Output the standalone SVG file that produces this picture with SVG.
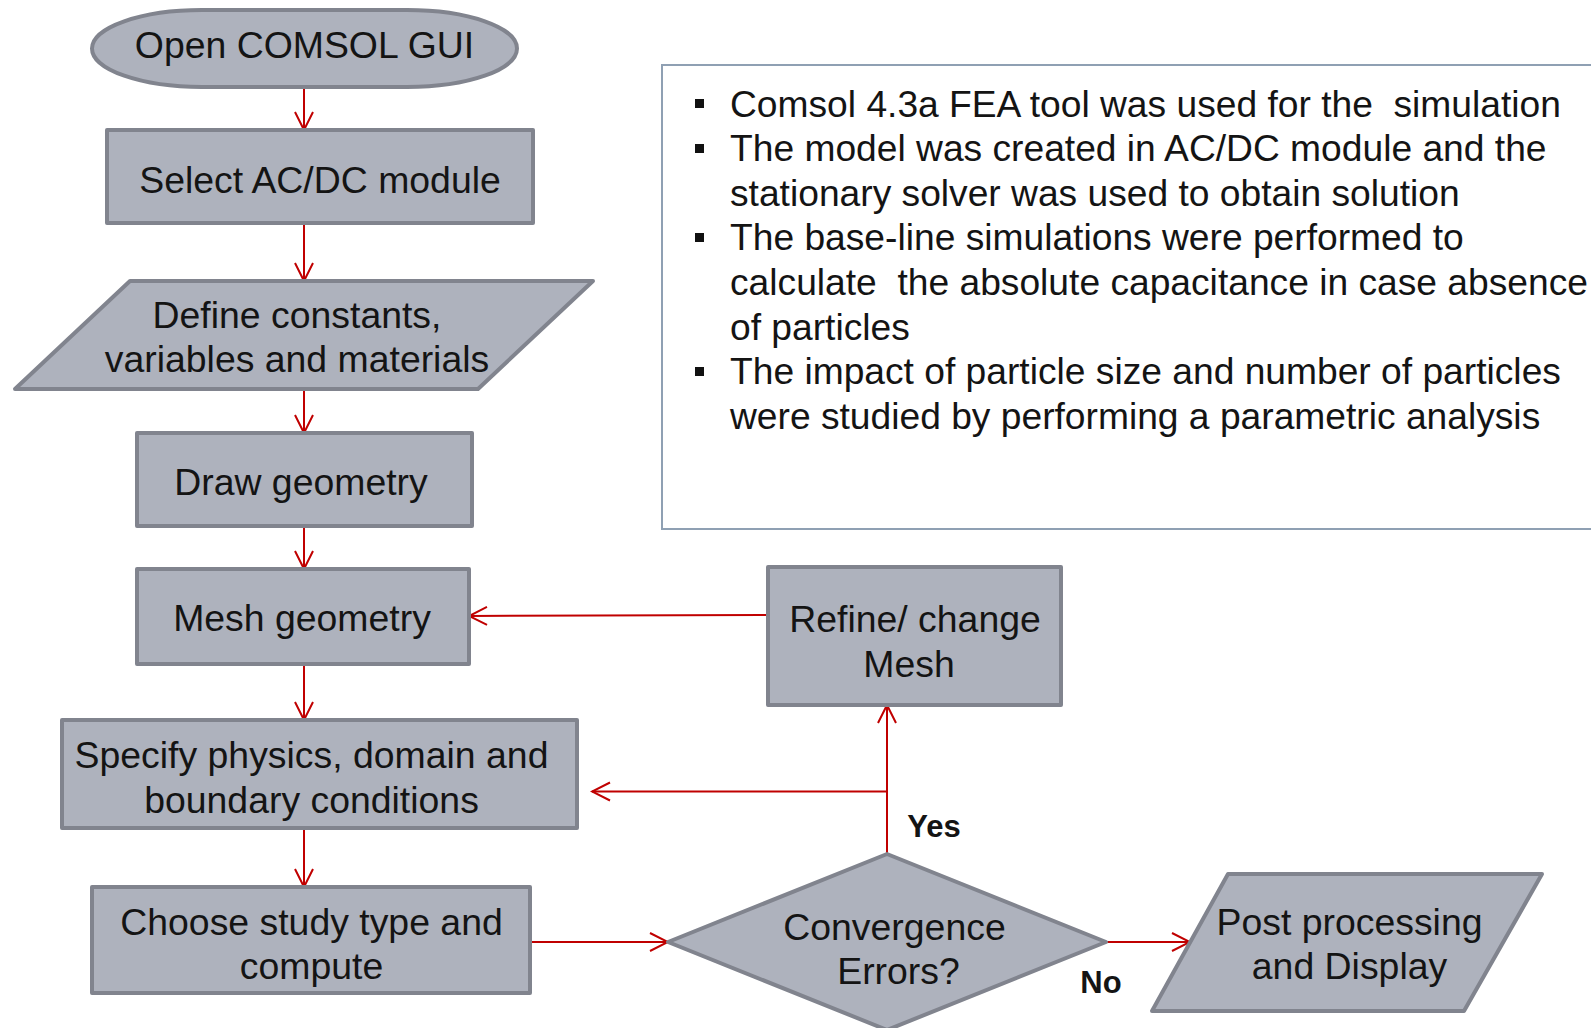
<svg xmlns="http://www.w3.org/2000/svg" width="1591" height="1028" viewBox="0 0 1591 1028">
<style>
.n{fill:#aeb2bd;stroke:#81848e;stroke-width:4;stroke-linejoin:round}
.t{font-family:"Liberation Sans",Arial,sans-serif;font-size:37.4px;fill:#141414;text-anchor:middle}
.b{font-family:"Liberation Sans",Arial,sans-serif;font-size:37.2px;fill:#141414;white-space:pre}
.lab{font-family:"Liberation Sans",Arial,sans-serif;font-size:31px;font-weight:bold;fill:#141414;text-anchor:middle}
.c{stroke:#c00000;stroke-width:2;fill:none}
.bul{fill:#111}
</style>
<defs>
<marker id="ah" markerUnits="userSpaceOnUse" markerWidth="22" markerHeight="22" viewBox="0 0 22 22" refX="20" refY="11" orient="auto">
<path d="M2,2 L20,11 L2,20" fill="none" stroke="#c00000" stroke-width="2"/>
</marker>
</defs>
<rect width="1591" height="1028" fill="#ffffff"/>

<g id="notes">
<rect x="662" y="65" width="940" height="464" fill="none" stroke="#8fa0b3" stroke-width="2"/>
<rect class="bul" x="695" y="99" width="9" height="9"/>
<rect class="bul" x="695" y="144" width="9" height="9"/>
<rect class="bul" x="695" y="233" width="9" height="9"/>
<rect class="bul" x="695" y="367" width="9" height="9"/>
<text class="b" x="730" y="116.5">Comsol 4.3a FEA tool was used for the  simulation</text>
<text class="b" x="730" y="161.1">The model was created in AC/DC module and the</text>
<text class="b" x="730" y="205.7">stationary solver was used to obtain solution</text>
<text class="b" x="730" y="250.3">The base-line simulations were performed to</text>
<text class="b" x="730" y="294.9">calculate  the absolute capacitance in case absence</text>
<text class="b" x="730" y="339.5">of particles</text>
<text class="b" x="730" y="384.1">The impact of particle size and number of particles</text>
<text class="b" x="730" y="428.7">were studied by performing a parametric analysis</text>
</g>

<g id="connectors">
<line class="c" x1="304" y1="87" x2="304" y2="130" marker-end="url(#ah)"/>
<line class="c" x1="304" y1="223" x2="304" y2="281" marker-end="url(#ah)"/>
<line class="c" x1="304" y1="389" x2="304" y2="433" marker-end="url(#ah)"/>
<line class="c" x1="304" y1="526" x2="304" y2="569" marker-end="url(#ah)"/>
<line class="c" x1="304" y1="664" x2="304" y2="720" marker-end="url(#ah)"/>
<line class="c" x1="304" y1="828" x2="304" y2="887" marker-end="url(#ah)"/>
<line class="c" x1="530" y1="942" x2="668" y2="942" marker-end="url(#ah)"/>
<line class="c" x1="887" y1="854" x2="887" y2="705" marker-end="url(#ah)"/>
<line class="c" x1="887" y1="791.5" x2="592" y2="791.5" marker-end="url(#ah)"/>
<line class="c" x1="768" y1="615" x2="469" y2="616" marker-end="url(#ah)"/>
<line class="c" x1="1106" y1="942" x2="1190" y2="942" marker-end="url(#ah)"/>
<text class="lab" x="934" y="837">Yes</text>
<text class="lab" x="1101" y="993">No</text>
</g>

<g id="open">
<rect class="n" x="92" y="10" width="425" height="77" rx="110" ry="38.5"/>
<text class="t" x="304.5" y="58">Open COMSOL GUI</text>
</g>

<g id="select">
<rect class="n" x="107" y="130" width="426" height="93"/>
<text class="t" x="320" y="193">Select AC/DC module</text>
</g>

<g id="define">
<polygon class="n" points="130,281 593,281 478,389 15,389"/>
<text class="t" x="297" y="328">Define constants,</text>
<text class="t" x="297" y="372">variables and materials</text>
</g>

<g id="draw">
<rect class="n" x="137" y="433" width="335" height="93"/>
<text class="t" x="301" y="495">Draw geometry</text>
</g>

<g id="mesh">
<rect class="n" x="137" y="569" width="332" height="95"/>
<text class="t" x="302" y="631">Mesh geometry</text>
</g>

<g id="specify">
<rect class="n" x="62" y="720" width="515" height="108"/>
<text class="t" x="311.5" y="768">Specify physics, domain and</text>
<text class="t" x="311.5" y="813">boundary conditions</text>
</g>

<g id="choose">
<rect class="n" x="92" y="887" width="438" height="106"/>
<text class="t" x="311.5" y="934.5">Choose study type and</text>
<text class="t" x="311.5" y="979">compute</text>
</g>

<g id="refine">
<rect class="n" x="768" y="567" width="293" height="138"/>
<text class="t" x="915" y="632">Refine/ change</text>
<text class="t" x="909" y="677">Mesh</text>
</g>

<g id="convergence">
<polygon class="n" points="887,854 1106,942 887,1030 668,942"/>
<text class="t" x="894.5" y="939.5">Convergence</text>
<text class="t" x="898.5" y="984">Errors?</text>
</g>

<g id="post">
<polygon class="n" points="1228,874 1542,874 1464,1011 1152,1011"/>
<text class="t" x="1349.5" y="934.5">Post processing</text>
<text class="t" x="1349.5" y="979">and Display</text>
</g>
</svg>
